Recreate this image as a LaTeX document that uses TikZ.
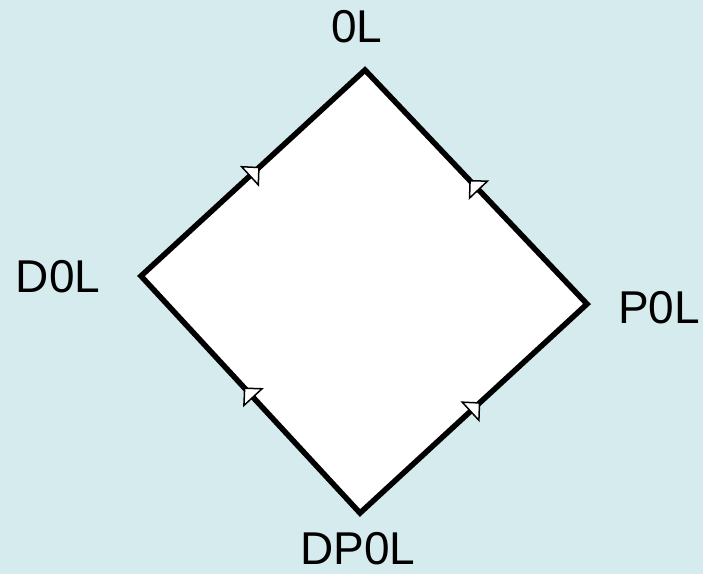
\documentclass[tikz,border=0pt]{standalone}
\usepackage{fontspec}
\setmainfont{Liberation Sans}
\usetikzlibrary{arrows.meta,decorations.markings}
\definecolor{bgblue}{RGB}{214,235,238}

\begin{document}
\begin{tikzpicture}[
    x=1pt, y=-1pt,
    label/.style={inner sep=0pt, font=\fontsize{46}{50}\selectfont},
    outline/.style={draw=black, fill=white, line width=5.5pt, line join=miter},
    flow/.style={postaction={decorate}, decoration={markings,
        mark=at position 0.53 with {\arrow{Triangle[length=14pt, width=28pt, line width=1.5pt, fill=white]}}}}
]

% Background and frame
\fill[bgblue] (0,0) rectangle (703,574);
\useasboundingbox (0,0) rectangle (703,574);

% Lattice corners
\coordinate (top) at (365,70);
\coordinate (left) at (141,276);
\coordinate (right) at (587,304);
\coordinate (bottom) at (360,513);

% Labels
\node[label] (ol) at (357,27) {0L};
\node[label] (dol) at (58,277) {D0L};
\node[label] (pol) at (659,308) {P0L};
\node[label] (dpol) at (358,549) {DP0L};

% Diamond
\path[outline] (top) -- (right) -- (bottom) -- (left) -- cycle;

% Directions
\path[flow] (left) -- (top);
\path[flow] (right) -- (top);
\path[flow] (bottom) -- (left);
\path[flow] (bottom) -- (right);

\end{tikzpicture}
\end{document}
